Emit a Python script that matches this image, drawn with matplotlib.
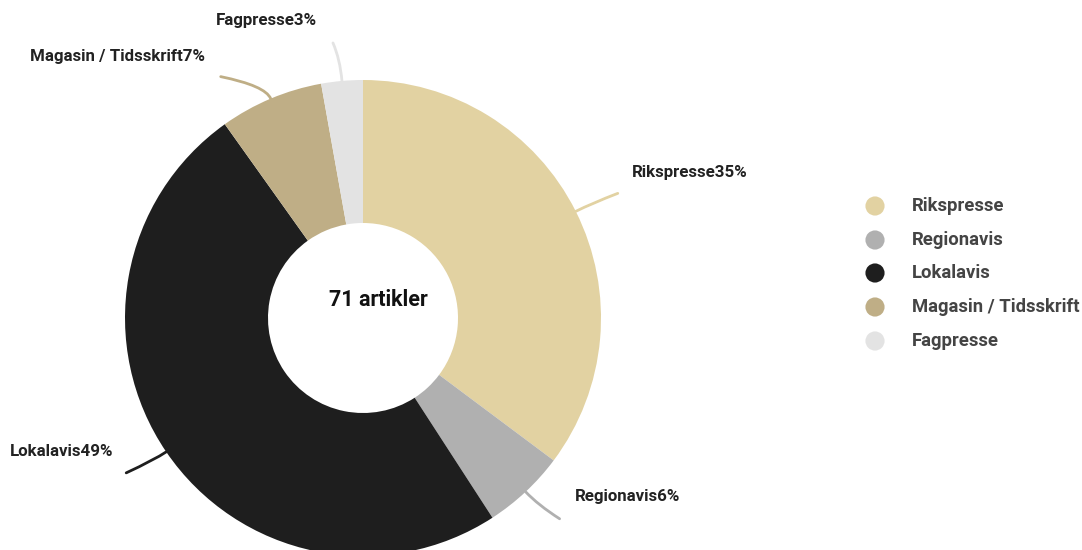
import matplotlib
matplotlib.use("Agg")
import matplotlib.pyplot as plt
import numpy as np
from matplotlib.path import Path
from matplotlib.patches import PathPatch

plt.rcParams['font.family'] = ['Roboto', 'DejaVu Sans']

categories = ["Rikspresse", "Regionavis", "Lokalavis", "Magasin / Tidsskrift", "Fagpresse"]
counts = [25, 4, 35, 5, 2]
colors = ["#e2d2a2", "#b0b0b0", "#1e1e1e", "#bfae86", "#e3e3e3"]
center_label = "71 artikler"

W, H = 1082, 550
fig = plt.figure(figsize=(W / 100, H / 100), dpi=100)
ax = fig.add_axes([0, 0, 1, 1])

cx, cy = 363, H - 318
R, r_in = 238, 95

wedges, _ = ax.pie(counts, colors=colors, startangle=90, counterclock=False,
                   radius=R, center=(cx, cy),
                   wedgeprops=dict(width=R - r_in, linewidth=0))
ax.set_xlim(0, W)
ax.set_ylim(0, H)
ax.set_aspect('equal')
ax.axis('off')

total = sum(counts)
pcts = [round(100 * c / total) for c in counts]

# leader geometry per slice: radial extension, end offset (dx, dy in px, y down), label anchor
leader = [
    dict(ext=18, end=(42, -18), lab=(632, 172), ha='left'),
    dict(ext=18, end=(34, 27), lab=(575, 497), ha='left'),
    dict(ext=14, end=(-40, 21), lab=(113, 452), ha='right'),
    dict(ext=14, end=(-50, -22), lab=(205, 56), ha='right'),
    dict(ext=22, end=(-9, -38), lab=(317, 20), ha='right'),
]

cum = 0
for i, c in enumerate(counts):
    mid = (cum + c / 2) / total
    cum += c
    ang = np.deg2rad(90 - 360 * mid)
    p0 = (cx + R * np.cos(ang), cy + R * np.sin(ang))
    p1 = (cx + (R + leader[i]['ext']) * np.cos(ang), cy + (R + leader[i]['ext']) * np.sin(ang))
    dx, dy = leader[i]['end']
    p2 = (p0[0] + dx, p0[1] - dy)
    path = Path([p0, p1, p2], [Path.MOVETO, Path.CURVE3, Path.CURVE3])
    ax.add_patch(PathPatch(path, facecolor='none', edgecolor=colors[i], lw=2, capstyle='round'))
    lx, ly = leader[i]['lab']
    ax.text(lx, H - ly, f"{categories[i]}{pcts[i]}%", ha=leader[i]['ha'], va='center',
            fontsize=12.2, fontweight='bold', color='#222222')

ax.text(378, H - 300, center_label, ha='center', va='center', fontsize=15.5,
        fontweight='bold', color='#111111')

# legend
leg_y = [206, 240, 273, 307, 341]
for i, cat in enumerate(categories):
    ax.scatter([875], [H - leg_y[i]], s=190, color=colors[i], edgecolors='none')
    ax.text(912, H - leg_y[i], cat, ha='left', va='center', fontsize=13.3,
            fontweight='bold', color='#444444')

fig.savefig("out.png", dpi=100)
